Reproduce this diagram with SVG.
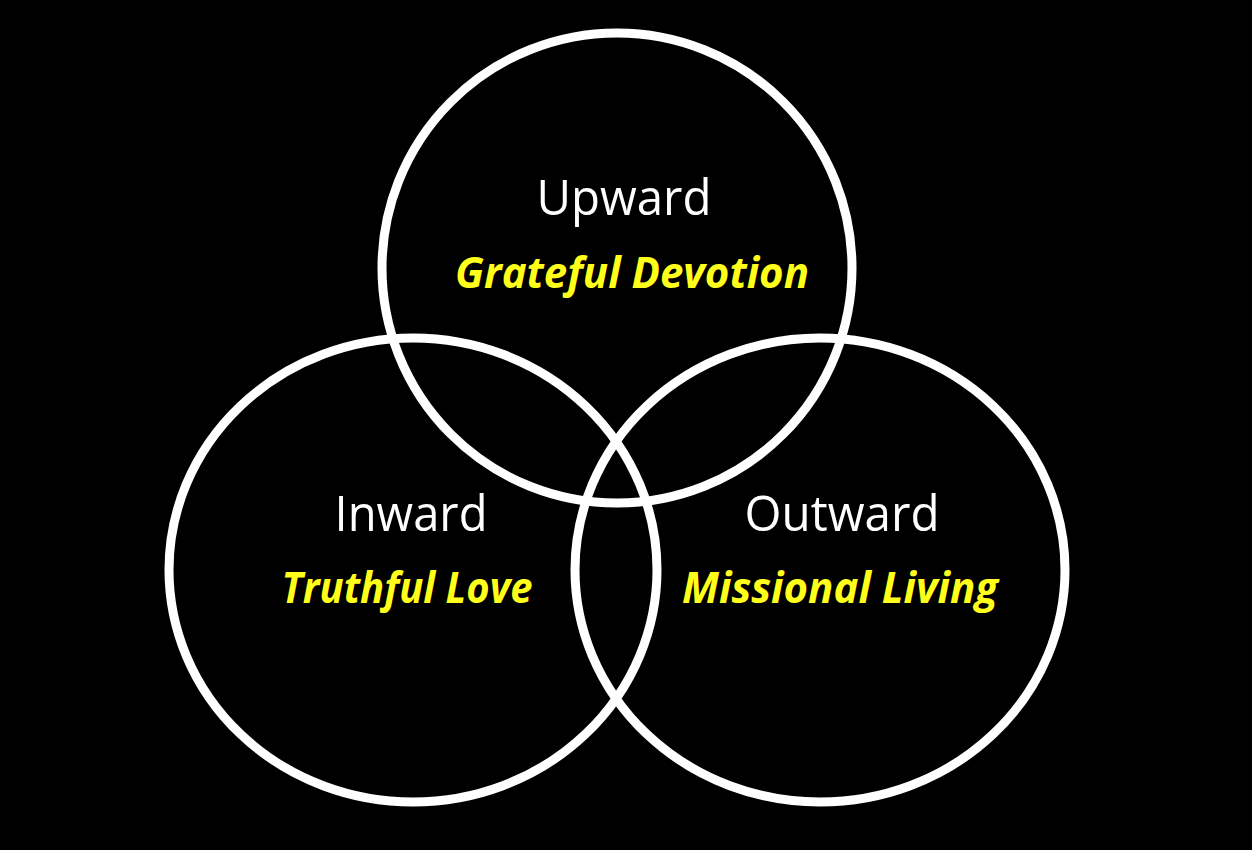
<svg xmlns="http://www.w3.org/2000/svg" width="1252" height="850" viewBox="0 0 1252 850">
<style>
.ring{fill:none;stroke:#ffffff;stroke-width:9}
.head{font-family:"Open Sans","Liberation Sans",sans-serif;font-size:50px;fill:#ffffff;text-anchor:middle}
.sub{font-family:"Open Sans","Liberation Sans",sans-serif;font-size:43px;font-weight:bold;font-style:italic;fill:#ffff1a;text-anchor:middle}
</style>
<rect x="0" y="0" width="1252" height="850" fill="#000000"/>
<g id="connectors"></g>
<g id="upward">
<ellipse class="ring" cx="617" cy="268" rx="235" ry="235"/>
<text class="head" x="624" y="215" textLength="175" lengthAdjust="spacingAndGlyphs">Upward</text>
<text class="sub" x="632" y="288" textLength="354" lengthAdjust="spacingAndGlyphs">Grateful Devotion</text>
</g>
<g id="inward">
<ellipse class="ring" cx="413" cy="570" rx="244" ry="232"/>
<text class="head" x="411" y="531" textLength="153" lengthAdjust="spacingAndGlyphs">Inward</text>
<text class="sub" x="407" y="603" textLength="251" lengthAdjust="spacingAndGlyphs">Truthful Love</text>
</g>
<g id="outward">
<ellipse class="ring" cx="820" cy="570" rx="245" ry="232"/>
<text class="head" x="842" y="531" textLength="195" lengthAdjust="spacingAndGlyphs">Outward</text>
<text class="sub" x="840" y="603" textLength="316" lengthAdjust="spacingAndGlyphs">Missional Living</text>
</g>
</svg>
